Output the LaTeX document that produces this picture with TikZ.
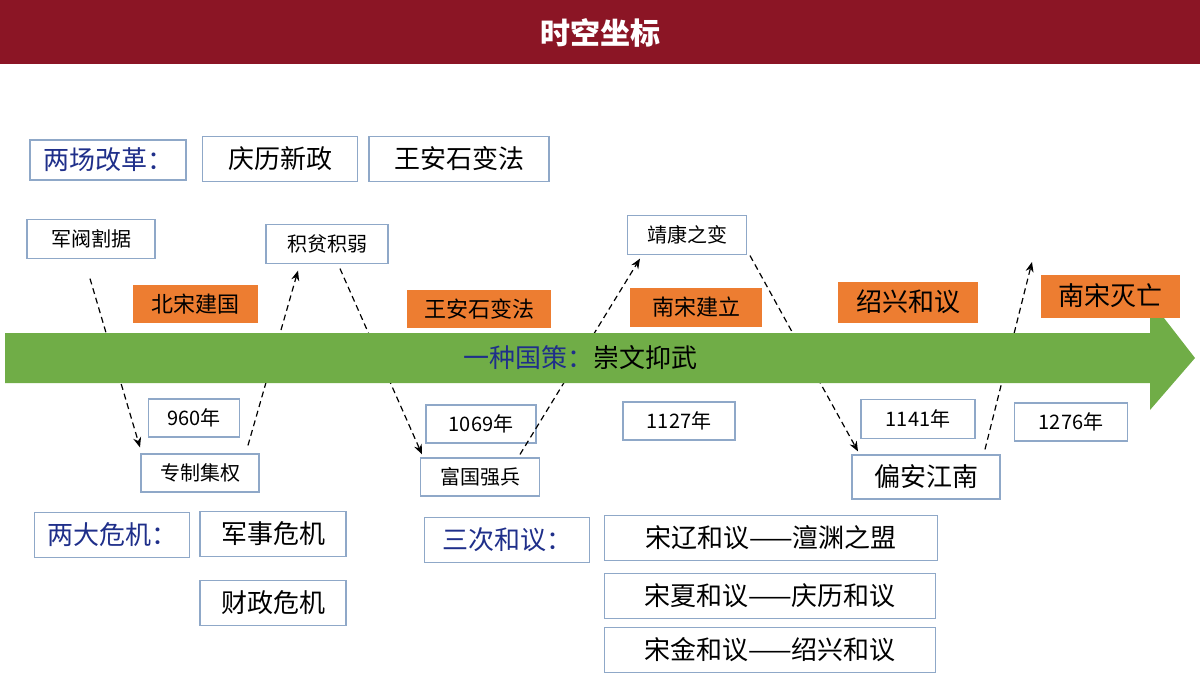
\documentclass[tikz,border=0pt]{standalone}
\usepackage{fontspec}
\setmainfont{Noto Sans CJK SC}
\usetikzlibrary{arrows.meta,calc}
\definecolor{bar}{HTML}{8B1525}
\definecolor{grn}{HTML}{70AD47}
\definecolor{org}{HTML}{ED7D31}
\definecolor{bdr}{HTML}{8FA8C8}
\definecolor{navy}{HTML}{1F2F8A}
\begin{document}
\begin{tikzpicture}[x=0.5pt,y=-0.5pt,
 box/.style={draw=bdr,line width=0.6pt,inner sep=0pt,font=\fontsize{13}{15}\selectfont},
 sbox/.style={box,font=\fontsize{10}{12}\selectfont},
 obox/.style={fill=org,inner sep=0pt,font=\fontsize{11}{13}\selectfont},
 dasharr/.style={densely dashed,line width=0.6pt,-{Stealth[length=5pt,width=4pt]}}]
\useasboundingbox (0,0) rectangle (1200,675);
\fill[bar] (0,0) rectangle (1200,64);
\node[font=\fontsize{15}{17}\selectfont\bfseries,text=white] (title) at (600,33) {时空坐标};
% boxes
\node[box,text=navy,minimum width=78pt,minimum height=20pt] (gaige) at (108,160) {两场改革：};
\node[box,minimum width=77.5pt,minimum height=22.5pt] (qingli) at (280,159) {庆历新政};
\node[box,minimum width=90pt,minimum height=22.5pt] (wang) at (459,159) {王安石变法};
\node[sbox,minimum width=64pt,minimum height=19.5pt] (junfa) at (91,239) {军阀割据};
\node[sbox,minimum width=61pt,minimum height=19.5pt] (jipin) at (327,244) {积贫积弱};
\node[sbox,minimum width=59.5pt,minimum height=19.5pt] (jingkang) at (687,235) {靖康之变};
\node[sbox,minimum width=45.5pt,minimum height=19pt] (y960) at (194,418) {960年};
\node[sbox,minimum width=55pt,minimum height=19pt] (y1069) at (481,424) {1069年};
\node[sbox,minimum width=56pt,minimum height=19pt] (y1127) at (679,421) {1127年};
\node[sbox,minimum width=57pt,minimum height=19.5pt] (y1141) at (918,419) {1141年};
\node[sbox,minimum width=56.5pt,minimum height=19pt] (y1276) at (1071,422) {1276年};
\node[sbox,minimum width=59pt,minimum height=19pt] (zhuanzhi) at (200,473) {专制集权};
\node[sbox,minimum width=59.5pt,minimum height=19pt] (fuguo) at (480,477) {富国强兵};
\node[box,minimum width=74pt,minimum height=22pt] (pianan) at (926,477) {偏安江南};
\node[box,text=navy,minimum width=77.5pt,minimum height=22.5pt] (weiji) at (112,535) {两大危机：};
\node[box,minimum width=73pt,minimum height=22.5pt] (junshi) at (273,534) {军事危机};
\node[box,minimum width=73pt,minimum height=22.5pt] (caizheng) at (273,603) {财政危机};
\node[box,text=navy,minimum width=82.5pt,minimum height=22.5pt] (heyi) at (507,540) {三次和议：};
\node[box,minimum width=166.5pt,minimum height=22.5pt] (songliao) at (771,538) {宋辽和议——澶渊之盟};
\node[box,minimum width=165.5pt,minimum height=22.5pt] (songxia) at (770,596) {宋夏和议——庆历和议};
\node[box,minimum width=165.5pt,minimum height=22.5pt] (songjin) at (770,650) {宋金和议——绍兴和议};
\coordinate (end6) at (1032,262);
% dashed arrows
\draw[dasharr] ($(junfa.south)+(-1,19.5)$) -- ($(zhuanzhi.north)+(-60,-6)$);
\draw[dasharr] ($(zhuanzhi.north)+(48,-8)$) -- ($(jipin.south)+(-29,6.5)$);
\draw[dasharr] ($(jipin.south)+(13,4.5)$) -- ($(fuguo.north)+(-58,-3)$);
\draw[dasharr] ($(fuguo.north)+(40,-3)$) -- ($(jingkang.south)+(-47,3.5)$);
\draw[dasharr] ($(jingkang.south)+(63,0.5)$) -- ($(pianan.north)+(-68,-3)$);
\draw[dasharr] ($(pianan.north)+(59,-5)$) -- (end6);
% green arrow
\fill[grn] (5,333) -- (1150,333) -- (1150,300) -- (1195,358) -- (1150,410) -- (1150,383) -- (5,383) -- cycle;
\node[font=\fontsize{13}{15}\selectfont] (guoce) at (580,358) {\textcolor{navy}{一种国策：}崇文抑武};
% orange boxes
\node[obox,minimum width=62.5pt,minimum height=19pt] (beisong) at (195,304) {北宋建国};
\node[obox,minimum width=72pt,minimum height=19pt] (wang2) at (479,309) {王安石变法};
\node[obox,minimum width=66pt,minimum height=19.5pt] (nansong) at (696,307) {南宋建立};
\node[obox,font=\fontsize{13}{15}\selectfont,minimum width=70pt,minimum height=20.5pt] (shaoxing) at (908,302) {绍兴和议};
\node[obox,font=\fontsize{13}{15}\selectfont,minimum width=69.5pt,minimum height=21.5pt] (miewang) at (1110,296) {南宋灭亡};
\end{tikzpicture}
\end{document}
